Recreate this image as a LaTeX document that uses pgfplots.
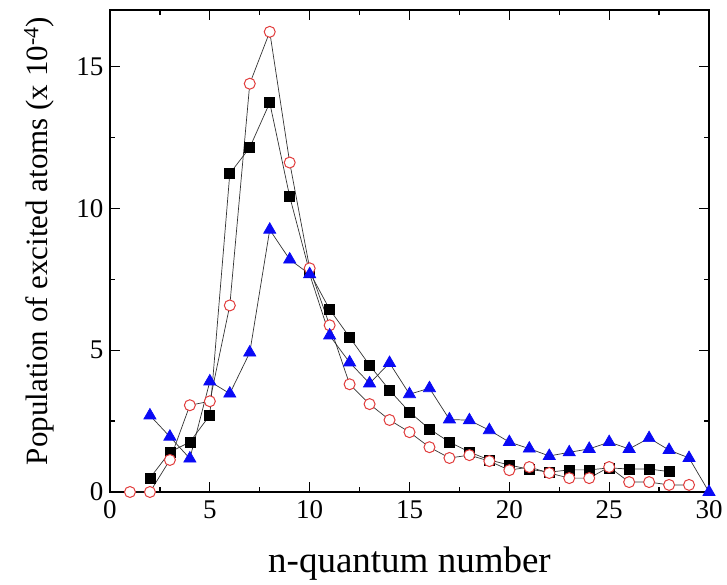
\documentclass[border=0pt]{standalone}
\usepackage{pgfplots}
\pgfplotsset{compat=1.18}
\usepackage{fontspec}
\setmainfont{LiberationSerif}[Extension=.ttf, UprightFont=*-Regular, BoldFont=*-Bold, ItalicFont=*-Italic]
\definecolor{tri}{RGB}{10,10,245}
\definecolor{circ}{RGB}{225,60,60}
\begin{document}
\begin{tikzpicture}
\begin{axis}[
  scale only axis,
  width=599pt, height=482pt,
  xmin=0, xmax=30, ymin=0, ymax=17,
  xtick={0,5,...,30}, ytick={0,5,10,15},
  minor xtick={2.5,7.5,...,27.5},
  minor ytick={2.5,7.5,12.5},
  tick align=inside,
  major tick length=10pt, minor tick length=5pt,
  every tick/.style={black, line width=1.3pt},
  axis line style={line width=1.8pt},
  /pgf/number format/assume math mode=true,
  ticklabel style={font=\rmfamily\fontsize{27}{29}\selectfont},
  xticklabel style={anchor=north, yshift=-5pt},
  yticklabel style={anchor=east, xshift=-3pt},
  xlabel={n-quantum number},
  ylabel={Population of excited atoms (x 10\textsuperscript{-4})},
  every axis x label/.style={at={(axis description cs:0.5,0)}, anchor=base, yshift=-80pt, font=\rmfamily\fontsize{37}{40}\selectfont},
  every axis y label/.style={at={(axis description cs:0,0.5)}, rotate=90, anchor=center, yshift=71pt, xshift=10pt, font=\rmfamily\fontsize{31}{34}\selectfont},
  clip=false,
]
\addplot[black!80, line width=0.7pt, mark=square*, mark size=5pt, mark options={black, fill=black}] coordinates {
(2,0.49) (3,1.41) (4,1.76) (5,2.71) (6,11.23) (7,12.15) (8,13.73) (9,10.42) (10,7.75)
(11,6.44) (12,5.46) (13,4.47) (14,3.59) (15,2.82) (16,2.22) (17,1.76) (18,1.41) (19,1.13)
(20,0.95) (21,0.80) (22,0.70) (23,0.78) (24,0.78) (25,0.85) (26,0.81) (27,0.81) (28,0.72)
};
\addplot[black!80, line width=0.7pt, mark=*, mark size=5.5pt, mark options={draw=circ, fill=white, line width=1pt}] coordinates {
(1,0) (2,0) (3,1.13) (4,3.06) (5,3.20) (6,6.58) (7,14.4) (8,16.23) (9,11.62) (10,7.89)
(11,5.88) (12,3.80) (13,3.10) (14,2.54) (15,2.11) (16,1.58) (17,1.20) (18,1.30) (19,1.09)
(20,0.77) (21,0.88) (22,0.67) (23,0.49) (24,0.49) (25,0.88) (26,0.35) (27,0.35) (28,0.25) (29,0.25)
};
\addplot[black!80, line width=0.7pt, mark=triangle*, mark size=7pt, mark options={tri, fill=tri}] coordinates {
(2,2.70) (3,1.95) (4,1.18) (5,3.90) (6,3.47) (7,4.92) (8,9.25) (9,8.20) (10,7.68)
(11,5.52) (12,4.57) (13,3.83) (14,4.55) (15,3.45) (16,3.66) (17,2.56) (18,2.53) (19,2.18)
(20,1.76) (21,1.53) (22,1.27) (23,1.40) (24,1.52) (25,1.76) (26,1.52) (27,1.90) (28,1.48) (29,1.20) (30,0)
};
\end{axis}
\pgfresetboundingbox
\path ([xshift=-110pt,yshift=-93pt]current axis.south west) rectangle ([xshift=18pt,yshift=10pt]current axis.north east);
\end{tikzpicture}
\end{document}
